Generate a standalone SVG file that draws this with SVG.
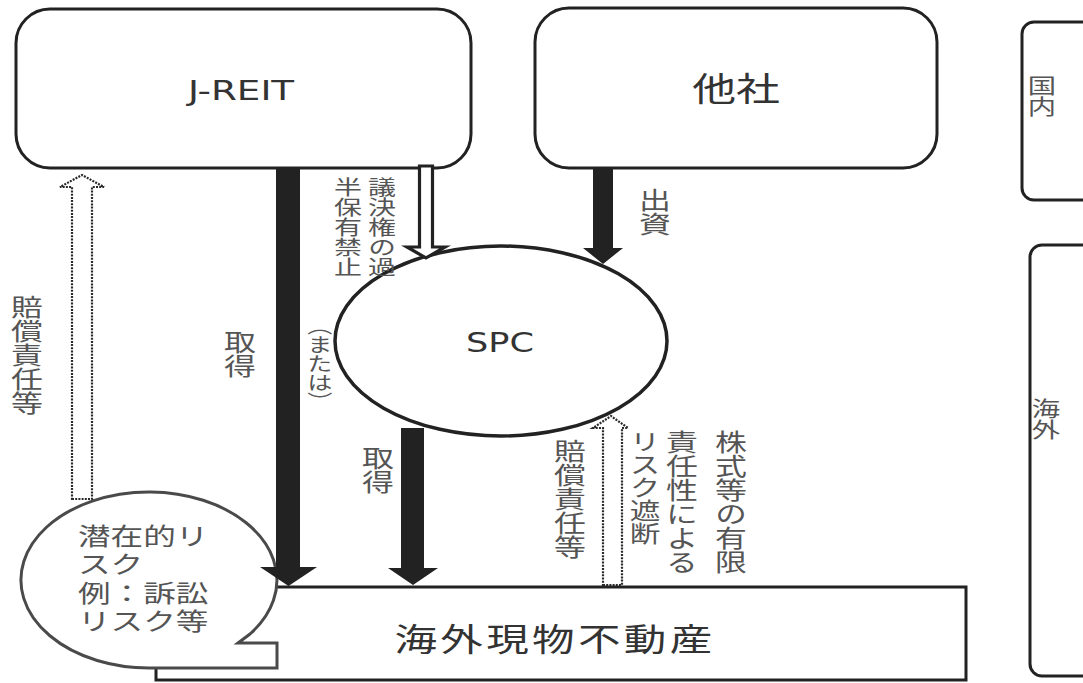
<svg xmlns="http://www.w3.org/2000/svg" width="1083" height="683" viewBox="0 0 1083 683">
<defs>
<style>
.box{fill:#fff;stroke:#222;stroke-width:3}
.solid{fill:#222;stroke:none}
.hollow{fill:#fff;stroke:#222;stroke-width:3.2;stroke-linejoin:miter}
.dotted{fill:#fff;stroke:#2a2a2a;stroke-width:2.2;stroke-dasharray:2 1.2}
.latin{font-family:"DejaVu Sans","Liberation Sans",sans-serif;fill:#333}
.jp{font-family:"Noto Sans CJK JP","Noto Sans CJK SC",sans-serif;fill:#555}
.jpc{font-family:"Liberation Sans","Noto Sans CJK JP",sans-serif;fill:#555}
.vt{writing-mode:vertical-rl}
</style>
</defs>
<rect width="1083" height="683" fill="#fff"/>

<g id="jreit">
<rect class="box" x="16" y="9" width="455" height="159" rx="34"/>
<g transform="translate(241 100) scale(1.38 1)"><text class="latin" x="0" y="0" font-size="27" text-anchor="middle">J-REIT</text></g>
</g>

<g id="tasha">
<rect class="box" x="535" y="8" width="402" height="160" rx="34"/>
<g transform="translate(736 101) scale(1.33 1)"><text class="jp" x="0" y="0" font-size="33" text-anchor="middle" style="fill:#333">他社</text></g>
</g>

<g id="kokunai">
<rect class="box" x="1022" y="22" width="90" height="178" rx="12"/>
<g transform="translate(1042 75) scale(1.35 1)"><text class="jp vt" x="0" y="0" font-size="21">国内</text></g>
</g>

<g id="kaigai">
<rect class="box" x="1030" y="245" width="90" height="431" rx="12"/>
<g transform="translate(1046 398) scale(1.35 1)"><text class="jp vt" x="0" y="0" font-size="21">海外</text></g>
</g>

<g id="property">
<rect class="box" x="156" y="587" width="810" height="93"/>
<g transform="translate(555 651) scale(1.33 1)"><text class="jp" x="0" y="0" font-size="32" letter-spacing="2.5" text-anchor="middle" style="fill:#333">海外現物不動産</text></g>
</g>

<g id="spc">
<ellipse cx="501" cy="341" rx="166" ry="95" fill="#fff" stroke="#222" stroke-width="3.5"/>
<g transform="translate(500 352) scale(1.3 1)"><text class="latin" x="0" y="0" font-size="27" text-anchor="middle">SPC</text></g>
</g>

<g id="risk-callout">
<path d="M 250 634 A 128 88 0 1 0 150 668 L 277 668 L 277 643 L 238 643 Z" fill="#fff" stroke="#4a4a4a" stroke-width="3"/>
<g transform="translate(78 0) scale(1.36 1)">
<text class="jpc" x="0" y="545" font-size="24">潜在的リ</text>
<text class="jpc" x="0" y="573" font-size="24">スク</text>
<text class="jpc" x="0" y="602" font-size="24">例：訴訟</text>
<text class="jpc" x="0" y="630" font-size="24">リスク等</text>
</g>
</g>

<g id="connectors">
<polygon class="solid" points="276,168 300,168 300,567 317,567 288.5,586 260,567 276,567"/>
<polygon class="solid" points="401,428 424,428 424,568 438,568 413,585 388,568 401,568"/>
<polygon class="solid" points="593,168 613,168 613,248 623,248 603,264 583,248 593,248"/>
<polygon class="hollow" points="419.5,166 432.5,166 432.5,247 445,247 426,258 407,247 419.5,247"/>
<polygon class="dotted" points="72,499 92,499 92,187 104,187 82,175 60,187 72,187"/>
<polygon class="dotted" points="603,585 622,585 622,428 628,428 611,416 593,428 603,428"/>
</g>

<g id="labels">
<g transform="translate(27 295) scale(1.33 1)"><text class="jp vt" x="0" y="0" font-size="24">賠償責任等</text></g>
<g transform="translate(240 330) scale(1.33 1)"><text class="jp vt" x="0" y="0" font-size="24">取得</text></g>
<g transform="translate(382 177) scale(1.4 1)"><text class="jp vt" x="0" y="0" font-size="20">議決権の過</text></g>
<g transform="translate(348 177) scale(1.4 1)"><text class="jp vt" x="0" y="0" font-size="20">半保有禁止</text></g>
<g transform="translate(320 316) scale(1.33 1)"><text class="jp vt" x="0" y="0" font-size="19">（または）</text></g>
<g transform="translate(655 188) scale(1.33 1)"><text class="jp vt" x="0" y="0" font-size="24">出資</text></g>
<g transform="translate(378 446) scale(1.33 1)"><text class="jp vt" x="0" y="0" font-size="24">取得</text></g>
<g transform="translate(570 439) scale(1.33 1)"><text class="jp vt" x="0" y="0" font-size="24">賠償責任等</text></g>
<g transform="translate(645 430) scale(1.33 1)"><text class="jp vt" x="0" y="0" font-size="23">リスク遮断</text></g>
<g transform="translate(682 430) scale(1.33 1)"><text class="jp vt" x="0" y="0" font-size="24">責任性による</text></g>
<g transform="translate(731 430) scale(1.33 1)"><text class="jp vt" x="0" y="0" font-size="24">株式等の有限</text></g>
</g>
</svg>
